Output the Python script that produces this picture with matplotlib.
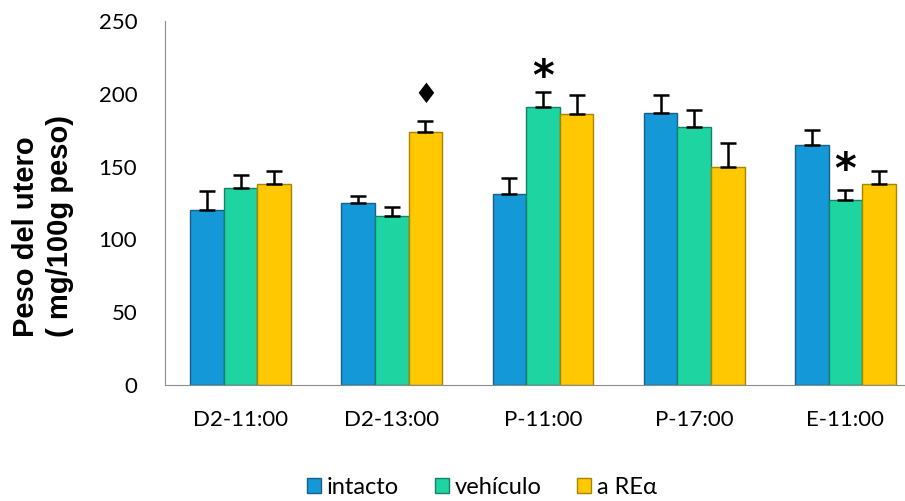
import matplotlib
matplotlib.use("Agg")
import matplotlib.pyplot as plt
import matplotlib.patches as mpatches
import numpy as np

categories = ["D2-11:00", "D2-13:00", "P-11:00", "P-17:00", "E-11:00"]
series = ["intacto", "vehículo", "a REα"]
intacto = [120, 125, 131, 187, 165]
vehiculo = [135, 116, 191, 177, 127]
arera = [138, 174, 186, 150, 138]
err_intacto = [13, 5, 11, 12, 10]
err_vehiculo = [9, 6, 10, 12, 7]
err_arera = [9, 7, 13, 16, 9]
yticks = [0, 50, 100, 150, 200, 250]

colors = ["#1598d8", "#1ed4a0", "#ffc800"]
edges = ["#1a5f86", "#17806a", "#a88400"]

fig = plt.figure(figsize=(9.05, 5.01), dpi=100)
ax = fig.add_axes([165/905, (501-385)/501, 756/905, 364/501])

x = np.arange(len(categories))
w = 0.222
vals = [intacto, vehiculo, arera]
errs = [err_intacto, err_vehiculo, err_arera]
for i, (v, e) in enumerate(zip(vals, errs)):
    pos = x + (i - 1) * w
    ax.bar(pos, v, width=w, color=colors[i], edgecolor=edges[i], linewidth=1.0, zorder=2)
    ax.errorbar(pos, v, yerr=[np.zeros(len(e)), e], fmt="none", ecolor="black",
                elinewidth=1.8, capsize=6, capthick=1.8, zorder=3)

ax.set_xlim(-0.5, 4.5)
ax.set_ylim(0, 250)
ax.set_yticks(yticks)
ax.set_xticks(x)
ax.set_xticklabels(categories, family="Lato", fontsize=16)
for lab in ax.get_yticklabels():
    lab.set_family("Lato")
    lab.set_fontsize(16)
ax.tick_params(axis="y", length=0, pad=20)
ax.tick_params(axis="x", length=0, pad=18)
for s in ["top", "right"]:
    ax.spines[s].set_visible(False)
ax.spines["left"].set_color("#8c8c8c")
ax.spines["bottom"].set_color("#8c8c8c")

# annotations
ax.text(x[1] + w, 199, "♦", ha="center", va="center", fontsize=20, family="DejaVu Sans")
ax.text(x[2], 211, "*", ha="center", va="center", fontsize=30, fontweight="bold", family="DejaVu Sans")
ax.text(x[4], 147, "*", ha="center", va="center", fontsize=30, fontweight="bold", family="DejaVu Sans")

# y label
fig.text(26/905, 1 - 237/501, "Peso del utero", rotation=90, ha="center", va="center",
         fontsize=21, fontweight="bold", family="Liberation Sans")
fig.text(60/905, 1 - 226/501, "( mg/100g peso)", rotation=90, ha="center", va="center",
         fontsize=21, fontweight="bold", family="Liberation Sans")

handles = [mpatches.Patch(facecolor=c, edgecolor=e, label=s) for c, e, s in zip(colors, edges, series)]
fig.legend(handles=handles, loc="center", bbox_to_anchor=(482/905, 1 - 487/501), ncol=3,
           frameon=False, prop={"family": "Lato", "size": 17}, handlelength=0.6, handleheight=0.6,
           handletextpad=0.25, columnspacing=1.5)

fig.savefig("out.png", dpi=100)
